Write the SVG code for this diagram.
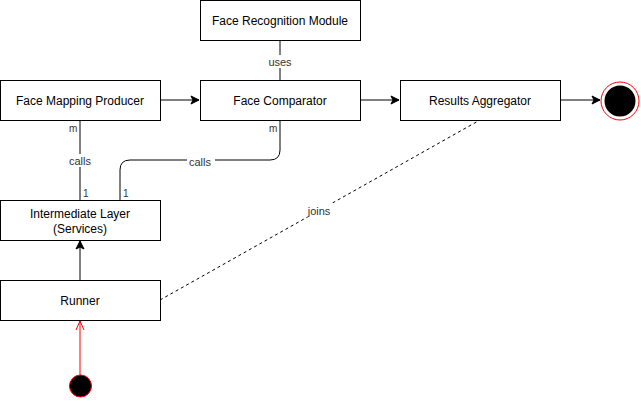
<svg xmlns="http://www.w3.org/2000/svg" width="641" height="401" viewBox="0 0 641 401">
<style>
.box{fill:#fff;stroke:#000;stroke-width:1}
.t{font-family:"Liberation Sans",Arial,sans-serif;font-size:12px;fill:#000;text-anchor:middle}
.lbl{font-family:"Liberation Sans",Arial,sans-serif;font-size:11px;fill:#333;text-anchor:middle}
.card{font-family:"Liberation Sans",Arial,sans-serif;font-size:10px;fill:#333}
.ln{fill:none;stroke:#000;stroke-width:1}
</style>
<defs>
<marker id="arr" markerWidth="10" markerHeight="10" refX="9" refY="5" orient="auto" markerUnits="userSpaceOnUse">
<path d="M1,1 L9,5 L1,9 L3,5 Z" fill="#000" stroke="#000"/>
</marker>
<marker id="open" markerWidth="12" markerHeight="12" refX="10" refY="6" orient="auto" markerUnits="userSpaceOnUse">
<path d="M1,2 L10,6 L1,10" fill="none" stroke="#f00"/>
</marker>
</defs>
<g id="connectors">
<line class="ln" x1="160" y1="100" x2="199" y2="100" marker-end="url(#arr)"/>
<line class="ln" x1="360" y1="100" x2="399" y2="100" marker-end="url(#arr)"/>
<line class="ln" x1="560" y1="100" x2="600" y2="100" marker-end="url(#arr)"/>
<line class="ln" x1="280" y1="40" x2="280" y2="80"/>
<rect x="266" y="55" width="28" height="13" fill="#fff"/>
<text class="lbl" x="280" y="66">uses</text>
<line class="ln" x1="80" y1="120" x2="80" y2="200"/>
<rect x="66" y="154" width="28" height="13" fill="#fff"/>
<text class="lbl" x="80" y="165">calls</text>
<text class="card" x="69" y="132">m</text>
<text class="card" x="83" y="197">1</text>
<path class="ln" d="M280,120 V150 Q280,160 270,160 H130 Q120,160 120,170 V200"/>
<rect x="187" y="155" width="28" height="12" fill="#fff"/>
<text class="lbl" x="200" y="166">calls</text>
<text class="card" x="269" y="132">m</text>
<text class="card" x="123" y="197">1</text>
<line class="ln" x1="160" y1="300" x2="480" y2="120" stroke-dasharray="3 3"/>
<rect x="305" y="203" width="28" height="14" fill="#fff"/>
<text class="lbl" x="319" y="215">joins</text>
<line class="ln" x1="80" y1="280" x2="80" y2="241" marker-end="url(#arr)"/>
<line x1="80" y1="375" x2="80" y2="321" stroke="#f00" fill="none" marker-end="url(#open)"/>
</g>
<g id="face-recognition-module"><rect class="box" x="200.5" y="0.5" width="160" height="40"/><text class="t" x="280" y="25">Face Recognition Module</text></g>
<g id="face-mapping-producer"><rect class="box" x="0.5" y="80.5" width="160" height="40"/><text class="t" x="80" y="105">Face Mapping Producer</text></g>
<g id="face-comparator"><rect class="box" x="200.5" y="80.5" width="160" height="40"/><text class="t" x="280" y="105">Face Comparator</text></g>
<g id="results-aggregator"><rect class="box" x="400.5" y="80.5" width="160" height="40"/><text class="t" x="480" y="105">Results Aggregator</text></g>
<g id="intermediate-layer"><rect class="box" x="0.5" y="200.5" width="160" height="40"/><text class="t" x="80" y="218">Intermediate Layer</text><text class="t" x="80" y="233">(Services)</text></g>
<g id="runner"><rect class="box" x="0.5" y="280.5" width="160" height="40"/><text class="t" x="80" y="305">Runner</text></g>
<g id="end"><circle cx="620" cy="101" r="19" fill="#fff" stroke="#f00"/><circle cx="620" cy="101" r="15.5" fill="#000"/></g>
<g id="start"><circle cx="80.5" cy="386" r="11" fill="#000" stroke="#f00"/></g>
</svg>
